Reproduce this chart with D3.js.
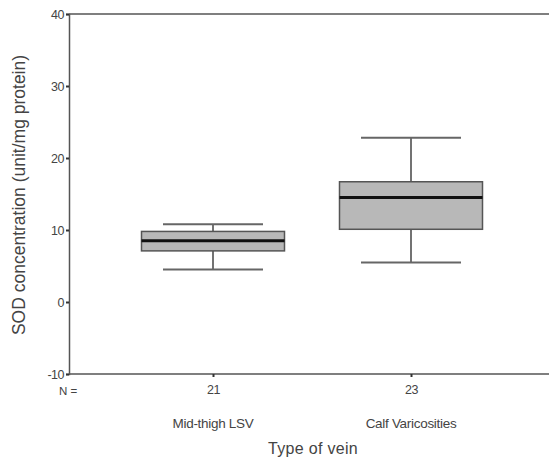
<!DOCTYPE html>
<html><head><meta charset="utf-8">
<script src="https://cdn.jsdelivr.net/npm/d3@7"></script>
<style>body{margin:0;background:#fff}svg{display:block}text{font-family:"Liberation Sans",Arial,sans-serif;fill:#444}</style>
</head><body><svg id="c" width="549" height="459"></svg>
<script>
const categories = ["Mid-thigh LSV", "Calf Varicosities"];
const nValues = [21, 23];
const whiskerLow = [4.5, 5.5];
const q1 = [7.1, 10.1];
const median = [8.5, 14.5];
const q3 = [9.8, 16.7];
const whiskerHigh = [10.8, 22.8];
const yTicks = [-10, 0, 10, 20, 30, 40];

const svg = d3.select("#c");
const y = d3.scaleLinear().domain([-10, 40]).range([374, 14]);
const x = d3.scalePoint().domain(categories).range([213, 411]);
const boxW = 143, capW = 100;
const axisColor = "#555";
const ff = "Liberation Sans, Arial, sans-serif";

// frame lines
svg.append("line").attr("x1",69).attr("x2",549).attr("y1",y(40)).attr("y2",y(40)).attr("stroke",axisColor).attr("stroke-width",1.5);
svg.append("line").attr("x1",69).attr("x2",549).attr("y1",y(-10)).attr("y2",y(-10)).attr("stroke",axisColor).attr("stroke-width",1.5);

// y axis
const ya = svg.append("g").attr("transform","translate(69,0)")
  .call(d3.axisLeft(y).tickValues(yTicks).tickSize(3).tickPadding(2).tickFormat(d=>String(d)));
ya.select(".domain").attr("stroke",axisColor).attr("stroke-width",1.5);
ya.selectAll(".tick line").attr("stroke","#333").attr("stroke-width",2);
ya.selectAll(".tick text").attr("font-size",12.5).attr("fill","#444").attr("letter-spacing",-0.5).style("font-family",ff);

// x ticks (N values)
const xa = svg.append("g").attr("transform",`translate(0,${y(-10)})`)
  .call(d3.axisBottom(x).tickSize(3).tickPadding(8).tickFormat((d,i)=>nValues[i]));
xa.select(".domain").remove();
xa.selectAll(".tick line").attr("stroke","#333").attr("stroke-width",2);
xa.selectAll(".tick text").attr("font-size",12.5).attr("fill","#444").attr("letter-spacing",-0.5).style("font-family",ff);
svg.append("text").attr("x",68).attr("y",395).attr("text-anchor","middle").attr("font-size",11.5).text("N =");

// category labels
svg.selectAll(".cat").data(categories).join("text").attr("class","cat")
  .attr("x",d=>x(d)).attr("y",428).attr("text-anchor","middle").attr("font-size",13.5)
  .attr("letter-spacing",-0.3).text(d=>d);

// axis titles
svg.append("text").attr("x",313).attr("y",454).attr("text-anchor","middle").attr("font-size",16).attr("letter-spacing",0.3).text("Type of vein");
svg.append("text").attr("transform","translate(25,195) rotate(-90)").attr("text-anchor","middle").attr("font-size",17.5).text("SOD concentration (unit/mg protein)");

// boxes
const g = svg.selectAll(".box").data(categories).join("g").attr("class","box");
g.append("line").attr("x1",d=>x(d)).attr("x2",d=>x(d)).attr("y1",(d,i)=>y(whiskerHigh[i])).attr("y2",(d,i)=>y(q3[i])).attr("stroke","#444").attr("stroke-width",1.5);
g.append("line").attr("x1",d=>x(d)).attr("x2",d=>x(d)).attr("y1",(d,i)=>y(q1[i])).attr("y2",(d,i)=>y(whiskerLow[i])).attr("stroke","#444").attr("stroke-width",1.5);
g.append("line").attr("x1",d=>x(d)-capW/2).attr("x2",d=>x(d)+capW/2).attr("y1",(d,i)=>y(whiskerHigh[i])).attr("y2",(d,i)=>y(whiskerHigh[i])).attr("stroke","#666").attr("stroke-width",2);
g.append("line").attr("x1",d=>x(d)-capW/2).attr("x2",d=>x(d)+capW/2).attr("y1",(d,i)=>y(whiskerLow[i])).attr("y2",(d,i)=>y(whiskerLow[i])).attr("stroke","#666").attr("stroke-width",2);
g.append("rect").attr("x",d=>x(d)-boxW/2).attr("width",boxW)
  .attr("y",(d,i)=>y(q3[i])).attr("height",(d,i)=>y(q1[i])-y(q3[i]))
  .attr("fill","#b8b8b8").attr("stroke","#555").attr("stroke-width",1.5);
g.append("line").attr("x1",d=>x(d)-boxW/2).attr("x2",d=>x(d)+boxW/2).attr("y1",(d,i)=>y(median[i])).attr("y2",(d,i)=>y(median[i])).attr("stroke","#111").attr("stroke-width",3);
</script></body></html>
